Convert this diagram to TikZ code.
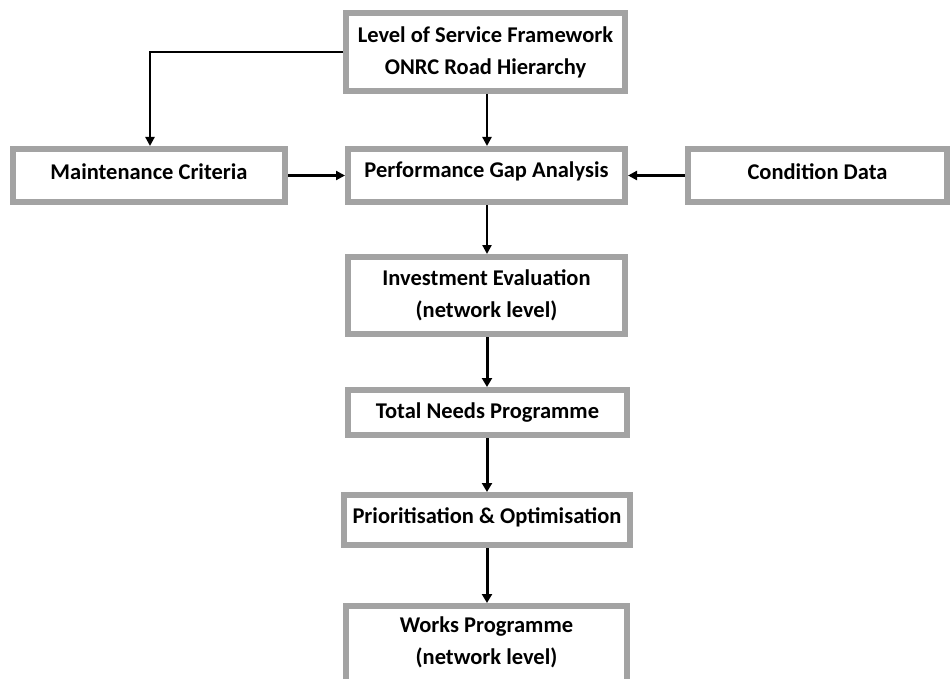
\documentclass[tikz,border=0pt]{standalone}
\usepackage{fontspec}
\setmainfont{Carlito}
\usetikzlibrary{arrows.meta}
\newcommand{\dropd}[1]{\rule[-#1]{0pt}{0pt}}
\begin{document}
\begin{tikzpicture}[x=1pt,y=-1pt,
  txt/.style={font=\bfseries\fontsize{22.5}{32}\selectfont, align=center},
  box/.style={draw=boxgray, line width=6pt, fill=white, rectangle, inner sep=0pt, txt},
  conn/.style={line width=2.2pt, -{Triangle[length=9pt,width=9pt]}},
  connb/.style={line width=3pt, -{Triangle[length=9pt,width=10pt]}}]
\definecolor{boxgray}{HTML}{A3A3A3}
\useasboundingbox (0,0) rectangle (950,679);
\clip (0,0) rectangle (950,679);
\node[box, minimum width=279pt, minimum height=78pt] (los) at (485.5,52) {Level of Service Framework\\ONRC Road Hierarchy};
\node[box, minimum width=277pt, minimum height=53pt] (pga) at (486.5,175.5) {Performance Gap Analysis\dropd{11pt}};
\node[box, minimum width=272pt, minimum height=53pt] (mc) at (149,175.5) {Maintenance Criteria\dropd{8pt}};
\node[box, minimum width=259pt, minimum height=53pt] (cd) at (817.5,175.5) {Condition Data\dropd{8pt}};
\node[box, minimum width=277pt, minimum height=77pt] (ie) at (486.5,295.5) {Investment Evaluation\\(network level)};
\node[box, minimum width=279pt, minimum height=45pt] (tn) at (487.5,412.5) {Total Needs Programme};
\node[box, minimum width=286pt, minimum height=50pt] (po) at (487,520) {Prioritisation \& Optimisation\dropd{9pt}};
\node[box, minimum width=281pt, minimum height=100pt, anchor=north] (wp) at (486.5,603) {};
\node[txt, inner sep=0pt] (wpt) at (486.5,642) {Works Programme\\(network level)};
\coordinate (lc) at (150,52);
\draw[conn] (los.west) -- (lc) -- (mc.north -| lc);
\draw[conn] (los.south -| 487,0) -- (pga.north -| 487,0);
\draw[conn] (mc.east) -- (pga.west);
\draw[conn] (cd.west) -- (pga.east);
\draw[conn] (pga.south -| 487,0) -- (ie.north -| 487,0);
\draw[connb] (ie.south -| 487,0) -- (tn.north -| 487,0);
\draw[connb] (tn.south -| 487,0) -- (po.north -| 487,0);
\draw[connb] (po.south -| 487,0) -- (wp.north -| 487,0);
\end{tikzpicture}
\end{document}
